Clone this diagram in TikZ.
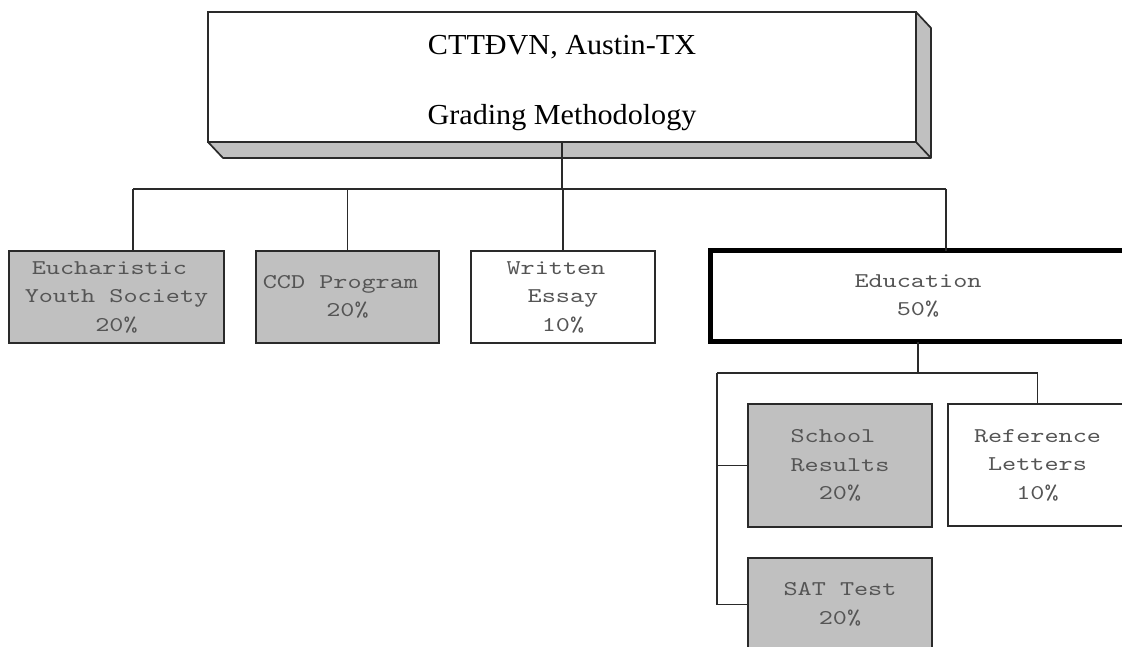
\documentclass[tikz,border=0pt]{standalone}
\usepackage{fontspec}
\newfontfamily\boxfont{lmmono10-regular.otf}[FakeStretch=1.28]
\newfontfamily\topfont{Liberation Serif}[FakeStretch=1.04]
\definecolor{boxgray}{HTML}{C0C0C0}
\definecolor{linec}{HTML}{2A2A2A}
\definecolor{textc}{HTML}{555555}
\tikzset{
  cbox/.style={draw=linec, line width=1.7pt, fill=white, inner sep=0pt, outer sep=0pt,
    align=center, text=textc, font=\boxfont\fontsize{21}{28.5}\selectfont},
  gbox/.style={cbox, fill=boxgray},
  conn/.style={draw=linec, line width=1.7pt},
  topbox/.style={draw=linec, line width=1.7pt, fill=white, inner sep=0pt, outer sep=0pt,
    align=center, text=black, font=\topfont\fontsize{29}{35}\selectfont,
    minimum width=708pt, minimum height=130pt},
}
\begin{document}
\begin{tikzpicture}[x=1pt,y=-1pt]
\useasboundingbox (0,0) rectangle (1122,646);
\clip (0,0) rectangle (1122,646);
% top box with shadow
\node[topbox] (top) at (562,77) {\rule{0pt}{31pt}CTTĐVN, Austin-TX\\[35pt]Grading Methodology};
\filldraw[fill=boxgray, draw=linec, line width=1.7pt, line join=round]
  (top.south west) -- ++(15,16) -- ++(708,0) -- ++(0,-130) -- (top.north east) -- (top.south east) -- cycle;
\draw[conn] (top.south east) -- ++(15,16);
% first level
\node[gbox, minimum width=215pt, minimum height=92pt] (eys) at (116.5,297)
  {Eucharistic\phantom{c}\\Youth Society\\20\%};
\node[gbox, minimum width=183pt, minimum height=92pt] (ccd) at (347.5,297)
  {CCD Program\phantom{c}\\20\%};
\node[cbox, minimum width=184pt, minimum height=92pt] (ess) at (563,297)
  {Written\phantom{c}\\Essay\\10\%};
\node[cbox, draw=black, line width=5pt, minimum width=416pt, minimum height=91pt] (edu) at (918,296)
  {Education\\50\%};
% second level
\node[gbox, minimum width=184pt, minimum height=123pt] (sch) at (840,465.5)
  {School\phantom{c}\\Results\\20\%};
\node[cbox, minimum width=179pt, minimum height=122pt] (ref) at (1037.5,465)
  {Reference\\Letters\\10\%};
\node[gbox, minimum width=184pt, minimum height=93pt] (sat) at (840,604.5)
  {SAT Test\\20\%};
% connectors level 1
\coordinate (j1) at (133,189);
\coordinate (j5) at (946,189);
\draw[conn] (top.south) -- (top.south |- j1);
\draw[conn] (j1) -- (j5);
\draw[conn] (j1) -- (j1 |- eys.north);
\draw[conn] (ccd.north |- j1) -- (ccd.north);
\draw[conn] (ess.north |- j1) -- (ess.north);
\draw[conn] (j5) -- (j5 |- edu.north);
% connectors level 2
\coordinate (k1) at (717,373);
\draw[conn] (edu.south) -- (edu.south |- k1);
\draw[conn] (k1) -- (ref.north |- k1) -- (ref.north);
\draw[conn] (k1) -- (k1 |- sat.west) -- (sat.west);
\draw[conn] (k1 |- sch.west) -- (sch.west);
\end{tikzpicture}
\end{document}
